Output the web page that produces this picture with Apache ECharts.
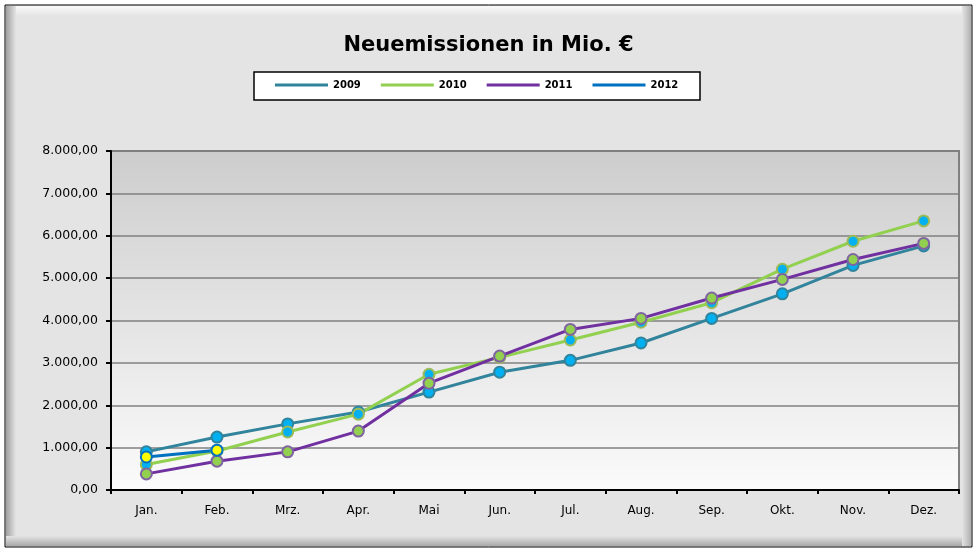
<!DOCTYPE html>
<html><head><meta charset="utf-8">
<script src="https://cdn.jsdelivr.net/npm/echarts@6/dist/echarts.min.js"></script>
<style>html,body{margin:0;padding:0;background:#fff}#c{width:977px;height:552px}</style>
</head><body><div id="c"></div>
<script>
const categories = ['Jan.','Feb.','Mrz.','Apr.','Mai','Jun.','Jul.','Aug.','Sep.','Okt.','Nov.','Dez.'];
const s2009 = [900,1250,1560,1840,2310,2780,3060,3470,4050,4630,5300,5760];
const s2010 = [600,920,1370,1790,2730,3130,3540,3960,4420,5210,5870,6350];
const s2011 = [380,680,900,1390,2520,3160,3790,4050,4530,4970,5440,5820];
const s2012 = [780,940];
const seriesNames = ['2009','2010','2011','2012'];
const yTicks = {min:0, max:8000, interval:1000};

const chart = echarts.init(document.getElementById('c'));
const FONT = 'DejaVu Sans';
function fmt(v){
  const s = Math.round(v).toString().replace(/\B(?=(\d{3})+(?!\d))/g,'.');
  return s + ',00';
}
const lineColors = {'2009':'#31849B','2010':'#92D050','2011':'#7030A0','2012':'#0070C0'};
function mk(name, data, fill, border){
  return {name, type:'line', data, symbol:'circle', symbolSize:11,
    lineStyle:{color:lineColors[name],width:3}, itemStyle:{color:fill,borderColor:border,borderWidth:2},
    emphasis:{disabled:true}, animation:false, z:3};
}
chart.setOption({
  animation:false,
  backgroundColor:'#ffffff',
  graphic:[
    {type:'rect', z:-10, shape:{x:5,y:5,width:967,height:542}, style:{fill:'#e4e4e4',stroke:'#000',lineWidth:1}},
    {type:'rect', z:-9, shape:{x:6,y:6,width:965,height:10}, style:{fill:new echarts.graphic.LinearGradient(0,0,0,1,[{offset:0,color:'#fafafa'},{offset:1,color:'#e4e4e4'}])}},
    {type:'rect', z:-9, shape:{x:6,y:6,width:10,height:540}, style:{fill:new echarts.graphic.LinearGradient(0,0,1,0,[{offset:0,color:'#a0a0a0'},{offset:1,color:'#e4e4e4'}])}},
    {type:'rect', z:-9, shape:{x:6,y:536,width:965,height:10}, style:{fill:new echarts.graphic.LinearGradient(0,0,0,1,[{offset:0,color:'#e4e4e4'},{offset:1,color:'#a8a8a8'}])}},
    {type:'rect', z:-9, shape:{x:962,y:6,width:9,height:540}, style:{fill:new echarts.graphic.LinearGradient(0,0,1,0,[{offset:0,color:'#e4e4e4'},{offset:1,color:'#b0b0b0'}])}},
    {type:'rect', z:-5, shape:{x:254,y:72,width:446,height:28}, style:{fill:'#fff',stroke:'#000',lineWidth:1.5}}
  ],
  title:{text:'Neuemissionen in Mio. €', left:'center', top:30,
    textStyle:{fontFamily:FONT,fontWeight:'bold',fontSize:21,color:'#000'}},
  legend:{data:seriesNames.map(n=>({name:n, icon:'rect', itemStyle:{color:lineColors[n],borderWidth:0}})),
    left:270, top:75, itemWidth:53, itemHeight:3, itemGap:20,
    textStyle:{fontFamily:FONT,fontWeight:'bold',fontSize:10,color:'#000'}, selectedMode:false},
  grid:{left:111, right:18, top:151, bottom:62, show:true,
    backgroundColor:new echarts.graphic.LinearGradient(0,0,0,1,[{offset:0,color:'#cdcdcd'},{offset:1,color:'#fbfbfb'}]),
    borderColor:'#808080', borderWidth:2},
  xAxis:{type:'category', data:categories, boundaryGap:true,
    axisLine:{lineStyle:{color:'#000',width:2}},
    axisTick:{show:true,length:4,lineStyle:{color:'#000',width:2}},
    axisLabel:{fontFamily:FONT,fontSize:12,color:'#000',margin:15},
    splitLine:{show:false}},
  yAxis:{type:'value', min:yTicks.min, max:yTicks.max, interval:yTicks.interval,
    axisLine:{show:true,lineStyle:{color:'#000',width:2}},
    axisTick:{show:true,length:5,lineStyle:{color:'#000',width:2}},
    axisLabel:{fontFamily:FONT,fontSize:12.5,color:'#000',margin:13,formatter:fmt},
    splitLine:{lineStyle:{color:'#808080',width:1.5}}},
  series:[
    mk('2009', s2009, '#00B0F0', '#31849B'),
    mk('2010', s2010, '#00B0F0', '#9BBB59'),
    mk('2011', s2011, '#92D050', '#8064A2'),
    mk('2012', s2012, '#FFFF00', '#0070C0')
  ]
});
</script></body></html>
